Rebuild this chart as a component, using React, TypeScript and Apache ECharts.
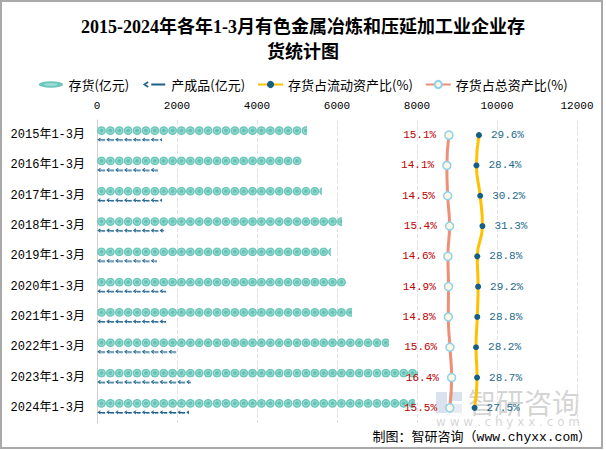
import React, { useEffect, useRef } from "react";
import * as echarts from "echarts";

const categories = [
  "2015年1-3月", "2016年1-3月", "2017年1-3月", "2018年1-3月", "2019年1-3月",
  "2020年1-3月", "2021年1-3月", "2022年1-3月", "2023年1-3月", "2024年1-3月",
];
const inventory = [5250, 5125, 5625, 6125, 5850, 6225, 6375, 7300, 8025, 7950];
const products = [1625, 1525, 1625, 1675, 1500, 1725, 1725, 2000, 2350, 2300];
const ratioCurrent = [29.6, 28.4, 30.2, 31.3, 28.8, 29.2, 28.8, 28.2, 28.7, 27.5];
const ratioTotal = [15.1, 14.1, 14.5, 15.4, 14.6, 14.9, 14.8, 15.6, 16.4, 15.5];
const xTicks = [0, 2000, 4000, 6000, 8000, 10000, 12000];

const svgUri = (s: string) => "image://data:image/svg+xml;utf8," + encodeURIComponent(s);

const invSymbol = svgUri(
  '<svg xmlns="http://www.w3.org/2000/svg" width="20" height="20" viewBox="0 0 20 20">' +
    '<circle cx="10" cy="10" r="9.6" fill="#6cc6bb"/>' +
    '<circle cx="10" cy="10" r="5.6" fill="none" stroke="#a6e0d7" stroke-width="2"/>' +
    '<path d="M7.5 11 Q10 6 12.5 9" fill="none" stroke="#5ab7ab" stroke-width="1.6"/>' +
    "</svg>"
);
const prodSymbol = svgUri(
  '<svg xmlns="http://www.w3.org/2000/svg" width="18" height="12" viewBox="0 0 18 12">' +
    '<path d="M7 1 L2.5 6 L7 11" stroke="#1f5f8b" stroke-width="2.4" fill="none"/>' +
    '<rect x="4" y="5" width="12" height="3" fill="#1f5f8b"/>' +
    '<rect x="9" y="8" width="7" height="2.5" fill="#4f93b8"/>' +
    "</svg>"
);
const invLegend = svgUri(
  '<svg xmlns="http://www.w3.org/2000/svg" width="50" height="14" viewBox="0 0 50 14">' +
    '<ellipse cx="25" cy="7" rx="24.5" ry="6.5" fill="#6cc6bb"/>' +
    '<ellipse cx="25" cy="7" rx="14" ry="3" fill="#9fdcd3"/>' +
    "</svg>"
);
const prodLegend = svgUri(
  '<svg xmlns="http://www.w3.org/2000/svg" width="50" height="14" viewBox="0 0 50 14">' +
    '<path d="M14 2 L6 7 L14 12" stroke="#1f5f8b" stroke-width="3" fill="none"/>' +
    '<rect x="20" y="5" width="28" height="4" fill="#1f5f8b"/>' +
    "</svg>"
);

export default function App() {
  const ref = useRef<HTMLDivElement>(null);
  useEffect(() => {
    if (!ref.current) return;
    const chart = echarts.init(ref.current, null, { renderer: "svg" });
    const cjk = "'Noto Sans CJK SC', sans-serif";
    const mono = "'Liberation Mono', 'Noto Sans CJK SC', monospace";
    const fmt = (p: any) => {
      const v = Array.isArray(p.value) ? p.value[0] : p.value;
      return Number(v).toFixed(1) + "%";
    };
    chart.setOption({
      animation: false,
      backgroundColor: "#ffffff",
      title: {
        text: "2015-2024年各年1-3月有色金属冶炼和压延加工业企业存\n货统计图",
        left: "center",
        top: 9,
        textStyle: {
          fontSize: 18,
          lineHeight: 25,
          fontWeight: "bold",
          color: "#000",
          fontFamily: "'Liberation Serif', 'Noto Sans CJK SC', serif",
        },
      },
      legend: {
        top: 73,
        left: "center",
        itemWidth: 25,
        itemHeight: 9,
        itemGap: 12,
        textStyle: { fontSize: 13, color: "#000", fontFamily: cjk },
        data: [
          { name: "存货(亿元)", icon: invLegend },
          { name: "产成品(亿元)", icon: prodLegend },
          { name: "存货占流动资产比(%)" },
          { name: "存货占总资产比(%)" },
        ],
      },
      grid: { left: 97, right: 29, top: 120, bottom: 27, containLabel: false },
      xAxis: [
        {
          type: "value",
          position: "top",
          min: xTicks[0],
          max: xTicks[xTicks.length - 1],
          interval: 2000,
          axisLine: { show: false },
          axisTick: { show: false },
          axisLabel: {
            fontSize: 11,
            color: "#000",
            margin: 9,
            fontFamily: mono,
            formatter: (v: number) => String(v),
          },
          splitLine: { show: true, lineStyle: { color: "#e3e3e3", type: "dashed" } },
        },
        {
          type: "value",
          position: "top",
          min: -155,
          max: 77,
          show: false,
          splitLine: { show: false },
        },
      ],
      yAxis: {
        type: "category",
        inverse: true,
        data: categories,
        axisLine: { show: true, lineStyle: { color: "#d0d0d0", width: 1 } },
        axisTick: { show: false },
        axisLabel: { fontSize: 12, color: "#000", margin: 12, fontFamily: mono },
      },
      series: [
        {
          name: "存货(亿元)",
          type: "pictorialBar",
          data: inventory,
          xAxisIndex: 0,
          symbol: invSymbol,
          symbolRepeat: true,
          symbolClip: true,
          symbolSize: [9, 9],
          symbolMargin: 0,
          barWidth: 9,
          barGap: "0%",
          itemStyle: { color: "#6cc6bb" },
          z: 2,
        },
        {
          name: "产成品(亿元)",
          type: "pictorialBar",
          data: products,
          xAxisIndex: 0,
          symbol: prodSymbol,
          symbolRepeat: true,
          symbolClip: true,
          symbolSize: [9, 6],
          symbolMargin: 0,
          barWidth: 9,
          barGap: "0%",
          itemStyle: { color: "#1f5f8b" },
          z: 2,
        },
        {
          name: "存货占流动资产比(%)",
          type: "line",
          xAxisIndex: 1,
          data: ratioCurrent,
          smooth: true,
          symbol: "circle",
          symbolSize: 6,
          lineStyle: { color: "#ffc000", width: 3 },
          itemStyle: { color: "#155f82" },
          label: {
            show: true,
            position: "right",
            distance: 9,
            color: "#1d6a8c",
            fontSize: 11,
            fontFamily: mono,
            formatter: fmt,
          },
          z: 5,
        },
        {
          name: "存货占总资产比(%)",
          type: "line",
          xAxisIndex: 1,
          data: ratioTotal,
          smooth: true,
          symbol: "circle",
          symbolSize: 8,
          lineStyle: { color: "#ee8f78", width: 3 },
          itemStyle: { color: "#fdf8e1", borderColor: "#8fd0ee", borderWidth: 1.5 },
          label: {
            show: true,
            position: "left",
            distance: 8,
            color: "#c00000",
            fontSize: 11,
            fontFamily: mono,
            formatter: fmt,
          },
          z: 5,
        },
      ],
      graphic: [
        {
          type: "rect",
          silent: true,
          shape: { x: 1, y: 1, width: 601, height: 447 },
          style: { fill: "none", stroke: "#a9a9a9", lineWidth: 2 },
          z: 100,
        },
        {
          type: "group",
          silent: true,
          z: 50,
          children: [
            {
              type: "rect",
              shape: { x: 436, y: 392, width: 11, height: 21 },
              style: { fill: "rgba(120,150,190,0.28)" },
            },
            {
              type: "rect",
              shape: { x: 449, y: 392, width: 13, height: 9 },
              style: { fill: "rgba(120,150,190,0.28)" },
            },
            {
              type: "rect",
              shape: { x: 449, y: 404, width: 13, height: 9 },
              style: { fill: "rgba(150,170,200,0.22)" },
            },
            {
              type: "text",
              style: {
                text: "智研咨询",
                x: 468,
                y: 402,
                verticalAlign: "middle",
                fontSize: 28,
                fill: "rgba(150,150,150,0.42)",
                fontFamily: cjk,
              },
            },
            {
              type: "text",
              style: {
                text: "w w w . c h y x x . c o m",
                x: 436,
                y: 422,
                verticalAlign: "middle",
                fontSize: 12,
                fill: "rgba(160,160,160,0.45)",
                fontFamily: "'DejaVu Sans', sans-serif",
              },
            },
          ],
        },
        {
          type: "text",
          silent: true,
          z: 60,
          style: {
            text: "制图：智研咨询（www.chyxx.com）",
            x: 591,
            y: 437,
            align: "right",
            verticalAlign: "middle",
            fontSize: 13,
            fill: "#000",
            fontFamily: mono,
          },
        },
      ],
    });
    return () => chart.dispose();
  }, []);
  return (
    <div
      ref={ref}
      style={{ position: "absolute", left: 0, top: 0, width: 606, height: 450 }}
    />
  );
}
